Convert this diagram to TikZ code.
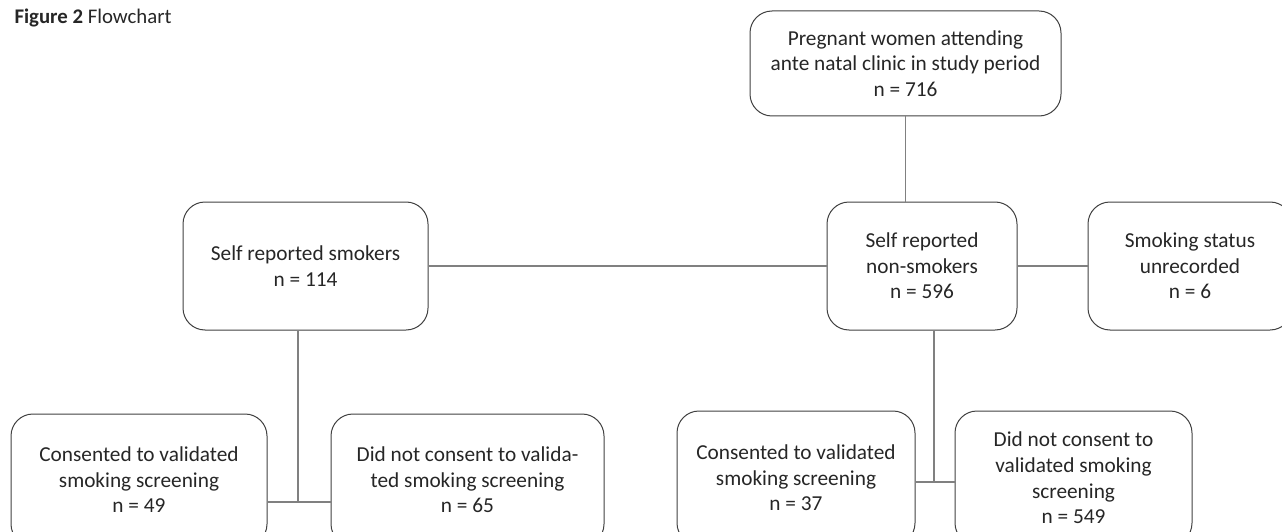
\documentclass[tikz,border=0pt]{standalone}
\usepackage{fontspec}
\setmainfont{Carlito}
\definecolor{boxline}{HTML}{404040}
\definecolor{linkline}{HTML}{808080}
\definecolor{txt}{HTML}{262626}
\tikzset{
box/.style={draw=boxline,line width=1pt,rounded corners=22pt,align=center,inner sep=0pt,text=txt,font=\fontsize{21.3}{25.6}\selectfont},
link/.style={draw=linkline,line width=1.2pt}
}
\begin{document}
\begin{tikzpicture}[x=1pt,y=-1pt]
\useasboundingbox (0,0) rectangle (1282,532);
\clip (0,0) rectangle (1282,532);
\node [anchor=west,text=txt,font=\fontsize{20.8}{24}\selectfont] (title) at (11,18) {\textbf{Figure 2} Flowchart};
\node [box,minimum width=311pt,minimum height=105pt] (women) at (905.5,63.5) {Pregnant women attending\\ante natal clinic in study period\\n = 716};
\node [box,minimum width=245pt,minimum height=128pt] (smokers) at (305.5,266) {Self reported smokers\\n = 114};
\node [box,minimum width=190pt,minimum height=128pt] (nonsmokers) at (922,266) {Self reported\\non-smokers\\n = 596};
\node [box,minimum width=204pt,minimum height=128pt] (unrecorded) at (1190,266) {Smoking status\\unrecorded\\n = 6};
\node [box,minimum width=256pt,minimum height=132pt] (consA) at (139,480) {Consented to validated\\smoking screening\\n = 49};
\node [box,minimum width=273pt,minimum height=132pt] (noconsA) at (467.5,480) {Did not consent to valida-\\ted smoking screening\\n = 65};
\node [box,minimum width=238pt,minimum height=134pt] (consB) at (796,478) {Consented to validated\\smoking screening\\n = 37};
\node [box,minimum width=237pt,minimum height=134pt] (noconsB) at (1073.5,478) {Did not consent to\\validated smoking\\screening\\n = 549};
\coordinate (smkjoin) at (298,502);
\coordinate (nsmjoin) at (934,482);
\draw [link] (women.south) -- (women.south |- nonsmokers.north);
\draw [link] (smokers.east) -- (nonsmokers.west);
\draw [link] (nonsmokers.east) -- (unrecorded.west);
\draw [link] (smokers.south -| smkjoin) -- (smkjoin);
\draw [link] (consA.east |- smkjoin) -- (noconsA.west |- smkjoin);
\draw [link] (nonsmokers.south -| nsmjoin) -- (nsmjoin);
\draw [link] (consB.east |- nsmjoin) -- (noconsB.west |- nsmjoin);
\end{tikzpicture}
\end{document}
